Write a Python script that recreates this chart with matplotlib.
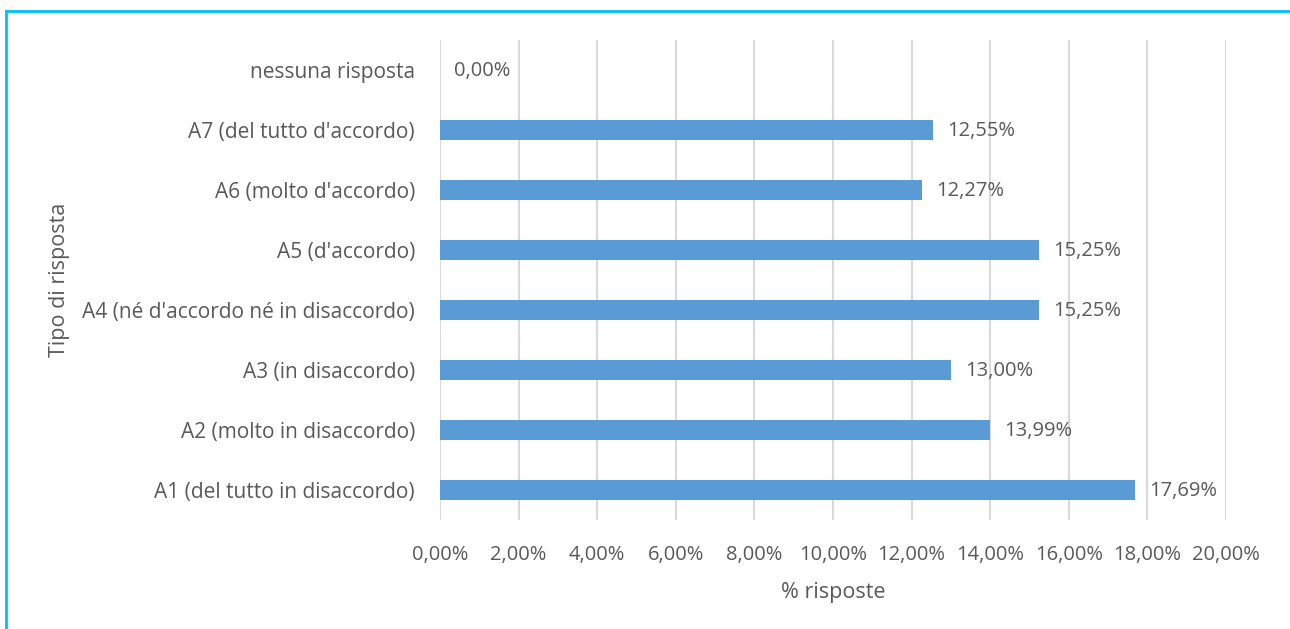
import matplotlib.pyplot as plt
from matplotlib.lines import Line2D

categories = [
    "A1 (del tutto in disaccordo)",
    "A2 (molto in disaccordo)",
    "A3 (in disaccordo)",
    "A4 (né d'accordo né in disaccordo)",
    "A5 (d'accordo)",
    "A6 (molto d'accordo)",
    "A7 (del tutto d'accordo)",
    "nessuna risposta",
]
values = [17.69, 13.99, 13.00, 15.25, 15.25, 12.27, 12.55, 0.00]
xticks = [0, 2, 4, 6, 8, 10, 12, 14, 16, 18, 20]


def pct(v):
    return f"{v:.2f}%".replace(".", ",")


def main():
    plt.rcParams["font.family"] = ["Open Sans", "DejaVu Sans"]
    text_color = "#595959"

    fig = plt.figure(figsize=(12.9, 6.29), dpi=100)
    ax = fig.add_axes([440 / 1290, 1 - 520 / 629, 786 / 1290, 480 / 629])

    ypos = list(range(len(categories)))
    ax.barh(ypos, values, height=0.34, color="#5B9BD5", zorder=3)
    for y, v in zip(ypos, values):
        ax.annotate(pct(v), (v, y), xytext=(10, -1), textcoords="offset points",
                    va="center", ha="left", fontsize=14.5, color=text_color)

    ax.set_xlim(0, 20)
    ax.set_ylim(-0.5, len(categories) - 0.5)
    ax.set_xticks(xticks)
    ax.set_xticklabels([pct(t) for t in xticks])
    ax.set_yticks(ypos)
    ax.set_yticklabels(categories)
    ax.tick_params(axis="both", length=0, labelsize=15, labelcolor=text_color)
    ax.tick_params(axis="x", labelsize=14.5, pad=18)
    ax.tick_params(axis="y", pad=18)
    ax.grid(axis="x", color="#D9D9D9", linewidth=1.5, zorder=0)
    for s in ax.spines.values():
        s.set_visible(False)

    ax.set_xlabel("% risposte", fontsize=15.5, color=text_color, labelpad=12)
    fig.text(60 / 1290, 1 - 280 / 629, "Tipo di risposta", rotation=90,
             ha="center", va="center", fontsize=15.5, color=text_color)

    # cyan frame on left and top edges
    fig.add_artist(Line2D([6 / 1290, 6 / 1290], [0, 1 - 11 / 629],
                          transform=fig.transFigure, color="#00BFFF", linewidth=2))
    fig.add_artist(Line2D([6 / 1290, 1], [1 - 11 / 629, 1 - 11 / 629],
                          transform=fig.transFigure, color="#00BFFF", linewidth=2))

    fig.savefig("out.png", dpi=100)


if __name__ == "__main__":
    main()
